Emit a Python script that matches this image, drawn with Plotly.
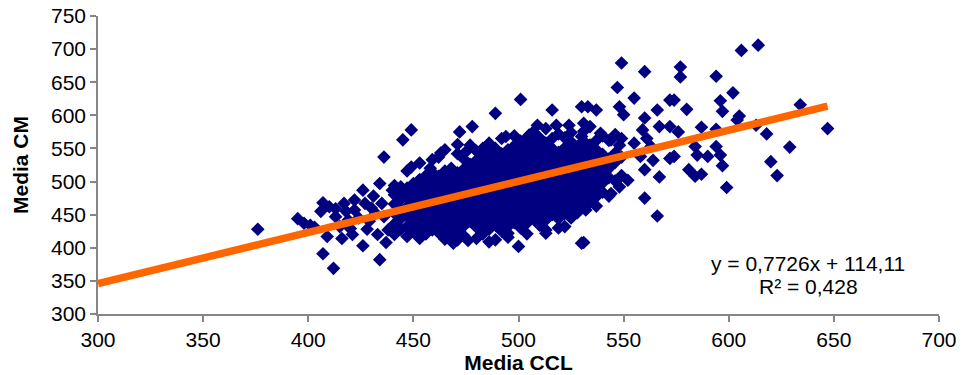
import plotly.graph_objects as go

# ---- Data ----
# Peripheral / outlying points
outer_ccl = [376, 395, 398, 401, 403, 407, 406, 407, 412, 413, 417, 422, 426, 434, 436,
             409, 416, 420, 428, 426, 434, 430, 435, 436, 438, 413, 419, 422, 440, 410,
             418, 424, 429, 432, 427, 431, 415, 421, 433, 437,
             445, 449, 449, 458, 463, 472, 478, 475, 483, 467, 477, 444, 453, 459, 470, 486,
             501, 489, 516, 530, 518, 524, 509, 494, 505, 530,
             495, 500, 489, 513, 522, 530, 505, 520, 469, 476, 483, 486, 531, 454, 459, 442,
             464, 445,
             549, 560, 547, 555, 533, 537, 548, 550, 572, 566, 560, 567, 572, 559, 531, 539,
             544, 548, 555, 563, 572, 567, 560, 552, 548, 544, 560, 566, 532, 536, 540, 532,
             564, 558, 561, 581,
             606, 614, 577, 577, 594, 602, 596, 597, 580, 605, 604, 634, 647, 613, 618, 629,
             620, 623, 599, 584, 587, 597, 594, 596, 590, 584, 587, 576, 574, 594, 574, 585]
outer_cm = [428, 444, 437, 434, 431, 468, 455, 391, 369, 459, 467, 472, 487, 497, 537,
            417, 414, 429, 428, 403, 382, 460, 467, 447, 427, 447, 442, 457, 487, 462,
            455, 445, 440, 452, 467, 478, 432, 420, 420, 408,
            563, 578, 522, 520, 543, 575, 583, 545, 550, 508, 515, 492, 502, 492, 497, 507,
            624, 603, 608, 613, 585, 585, 585, 568, 570, 568,
            422, 402, 412, 422, 432, 407, 452, 452, 407, 411, 422, 409, 408, 437, 427, 432,
            442, 452,
            679, 666, 642, 626, 613, 608, 613, 601, 623, 608, 596, 583, 583, 578, 588, 573,
            563, 555, 558, 553, 535, 507, 518, 502, 492, 482, 475, 448, 457, 528, 518, 497,
            532, 538, 565, 518,
            698, 706, 673, 658, 659, 634, 622, 606, 609, 599, 593, 616, 580, 585, 572, 552,
            530, 509, 491, 508, 511, 524, 553, 540, 538, 553, 582, 575, 538, 579, 623, 540]

# Dense central cloud, column by column (Media CCL value -> Media CM values)
core_ccl_cols = [441, 444, 447, 450, 453, 456, 459, 462, 465, 468, 471, 474, 477, 480,
                 483, 486, 489, 492, 495, 498, 501, 504, 507, 510, 513, 516, 519, 522,
                 525, 528, 531, 534, 537, 540, 543, 546, 549]
core_cm_cols = [
    [420, 436, 452, 466, 480, 494],
    [428, 444, 458, 473, 486],
    [417, 432, 448, 462, 477, 490, 516],
    [424, 440, 455, 469, 483, 497],
    [414, 430, 446, 460, 474, 488, 503, 528],
    [421, 437, 452, 466, 481, 495, 509],
    [430, 444, 458, 473, 487, 501, 514, 533],
    [423, 438, 452, 466, 480, 494, 508, 537],
    [413, 428, 445, 459, 473, 487, 501, 516, 548],
    [420, 435, 450, 464, 478, 492, 506, 520],
    [412, 427, 442, 456, 470, 484, 499, 513, 542, 556],
    [418, 433, 448, 462, 476, 490, 505, 519, 534],
    [440, 455, 469, 483, 497, 511, 526, 555],
    [414, 431, 446, 461, 475, 489, 503, 517, 532, 546],
    [421, 436, 452, 466, 480, 494, 508, 523, 538],
    [428, 443, 458, 472, 486, 500, 514, 529, 544, 558],
    [434, 449, 463, 477, 491, 506, 520, 535, 550],
    [425, 441, 456, 470, 484, 498, 512, 527, 542, 565],
    [416, 432, 447, 462, 476, 490, 504, 518, 533, 548],
    [438, 453, 468, 482, 496, 510, 524, 539, 554, 569],
    [430, 445, 460, 474, 488, 502, 517, 531, 546, 561],
    [421, 437, 452, 466, 480, 494, 509, 523, 538, 552, 566],
    [444, 459, 473, 487, 501, 515, 530, 545, 559, 575],
    [434, 450, 465, 479, 493, 507, 521, 536, 551, 566],
    [427, 442, 457, 471, 485, 499, 514, 528, 543, 558, 580],
    [450, 464, 478, 492, 506, 520, 535, 550, 565],
    [430, 444, 458, 472, 486, 500, 514, 529, 544, 572],
    [452, 466, 480, 494, 508, 522, 537, 551, 566],
    [445, 459, 473, 487, 501, 516, 530, 545, 560, 574],
    [453, 467, 481, 495, 509, 523, 538, 553],
    [462, 476, 490, 504, 518, 532, 547, 561, 576],
    [469, 483, 497, 511, 525, 540, 555, 583],
    [463, 477, 491, 505, 519, 533, 548, 562],
    [484, 498, 512, 526, 541, 569],
    [478, 506, 520, 534, 562],
    [501, 529, 543, 571],
    [509, 537, 565],
]

# Linear trend shown on the chart
trend_slope = 0.7726
trend_intercept = 114.11
trend_ccl = [300, 647]
eq_label = "y = 0,7726x + 114,11"
r2_label = "R² = 0,428"

x_ticks = [300, 350, 400, 450, 500, 550, 600, 650, 700]
y_ticks = [300, 350, 400, 450, 500, 550, 600, 650, 700, 750]

# ---- Assemble ----
ccl = list(outer_ccl)
cm = list(outer_cm)
for cx, ys in zip(core_ccl_cols, core_cm_cols):
    for yv in ys:
        ccl.append(cx)
        cm.append(yv)

trend_cm = [trend_slope * v + trend_intercept for v in trend_ccl]

FONT = "Liberation Sans, Arial, sans-serif"
AX = "#868686"

fig = go.Figure()
fig.add_trace(go.Scatter(
    x=ccl, y=cm, mode="markers",
    marker=dict(symbol="diamond", size=10.5, color="#000080", line=dict(width=0)),
    showlegend=False, hoverinfo="skip"))
fig.add_trace(go.Scatter(
    x=trend_ccl, y=trend_cm, mode="lines",
    line=dict(color="#FF6600", width=7.5),
    showlegend=False, hoverinfo="skip"))

fig.add_annotation(x=637.7, y=377, text=eq_label, showarrow=False,
                   font=dict(family=FONT, size=21, color="black"),
                   xanchor="center", yanchor="middle")
fig.add_annotation(x=637.7, y=341, text=r2_label, showarrow=False,
                   font=dict(family=FONT, size=21, color="black"),
                   xanchor="center", yanchor="middle")

fig.update_layout(
    width=964, height=375,
    margin=dict(l=98, r=25, t=16, b=61, autoexpand=False),
    paper_bgcolor="white", plot_bgcolor="white",
    font=dict(family=FONT, size=21, color="black"),
    xaxis=dict(range=[300, 700], tickvals=x_ticks, ticktext=[str(v) for v in x_ticks],
               showgrid=False, zeroline=False, showline=True, linecolor=AX, linewidth=1.5,
               ticks="outside", ticklen=6, tickcolor=AX, tickwidth=1.5,
               tickfont=dict(family=FONT, size=21, color="black"),
               title=dict(text="<b>Media CCL</b>", font=dict(family=FONT, size=21), standoff=2)),
    yaxis=dict(range=[300, 750], tickvals=y_ticks, ticktext=[str(v) for v in y_ticks],
               showgrid=False, zeroline=False, showline=True, linecolor=AX, linewidth=1.5,
               ticks="outside", ticklen=6, tickcolor=AX, tickwidth=1.5,
               tickfont=dict(family=FONT, size=21, color="black"),
               title=dict(text="<b>Media CM</b>", font=dict(family=FONT, size=21), standoff=17)),
)

fig.write_html("out.html")
